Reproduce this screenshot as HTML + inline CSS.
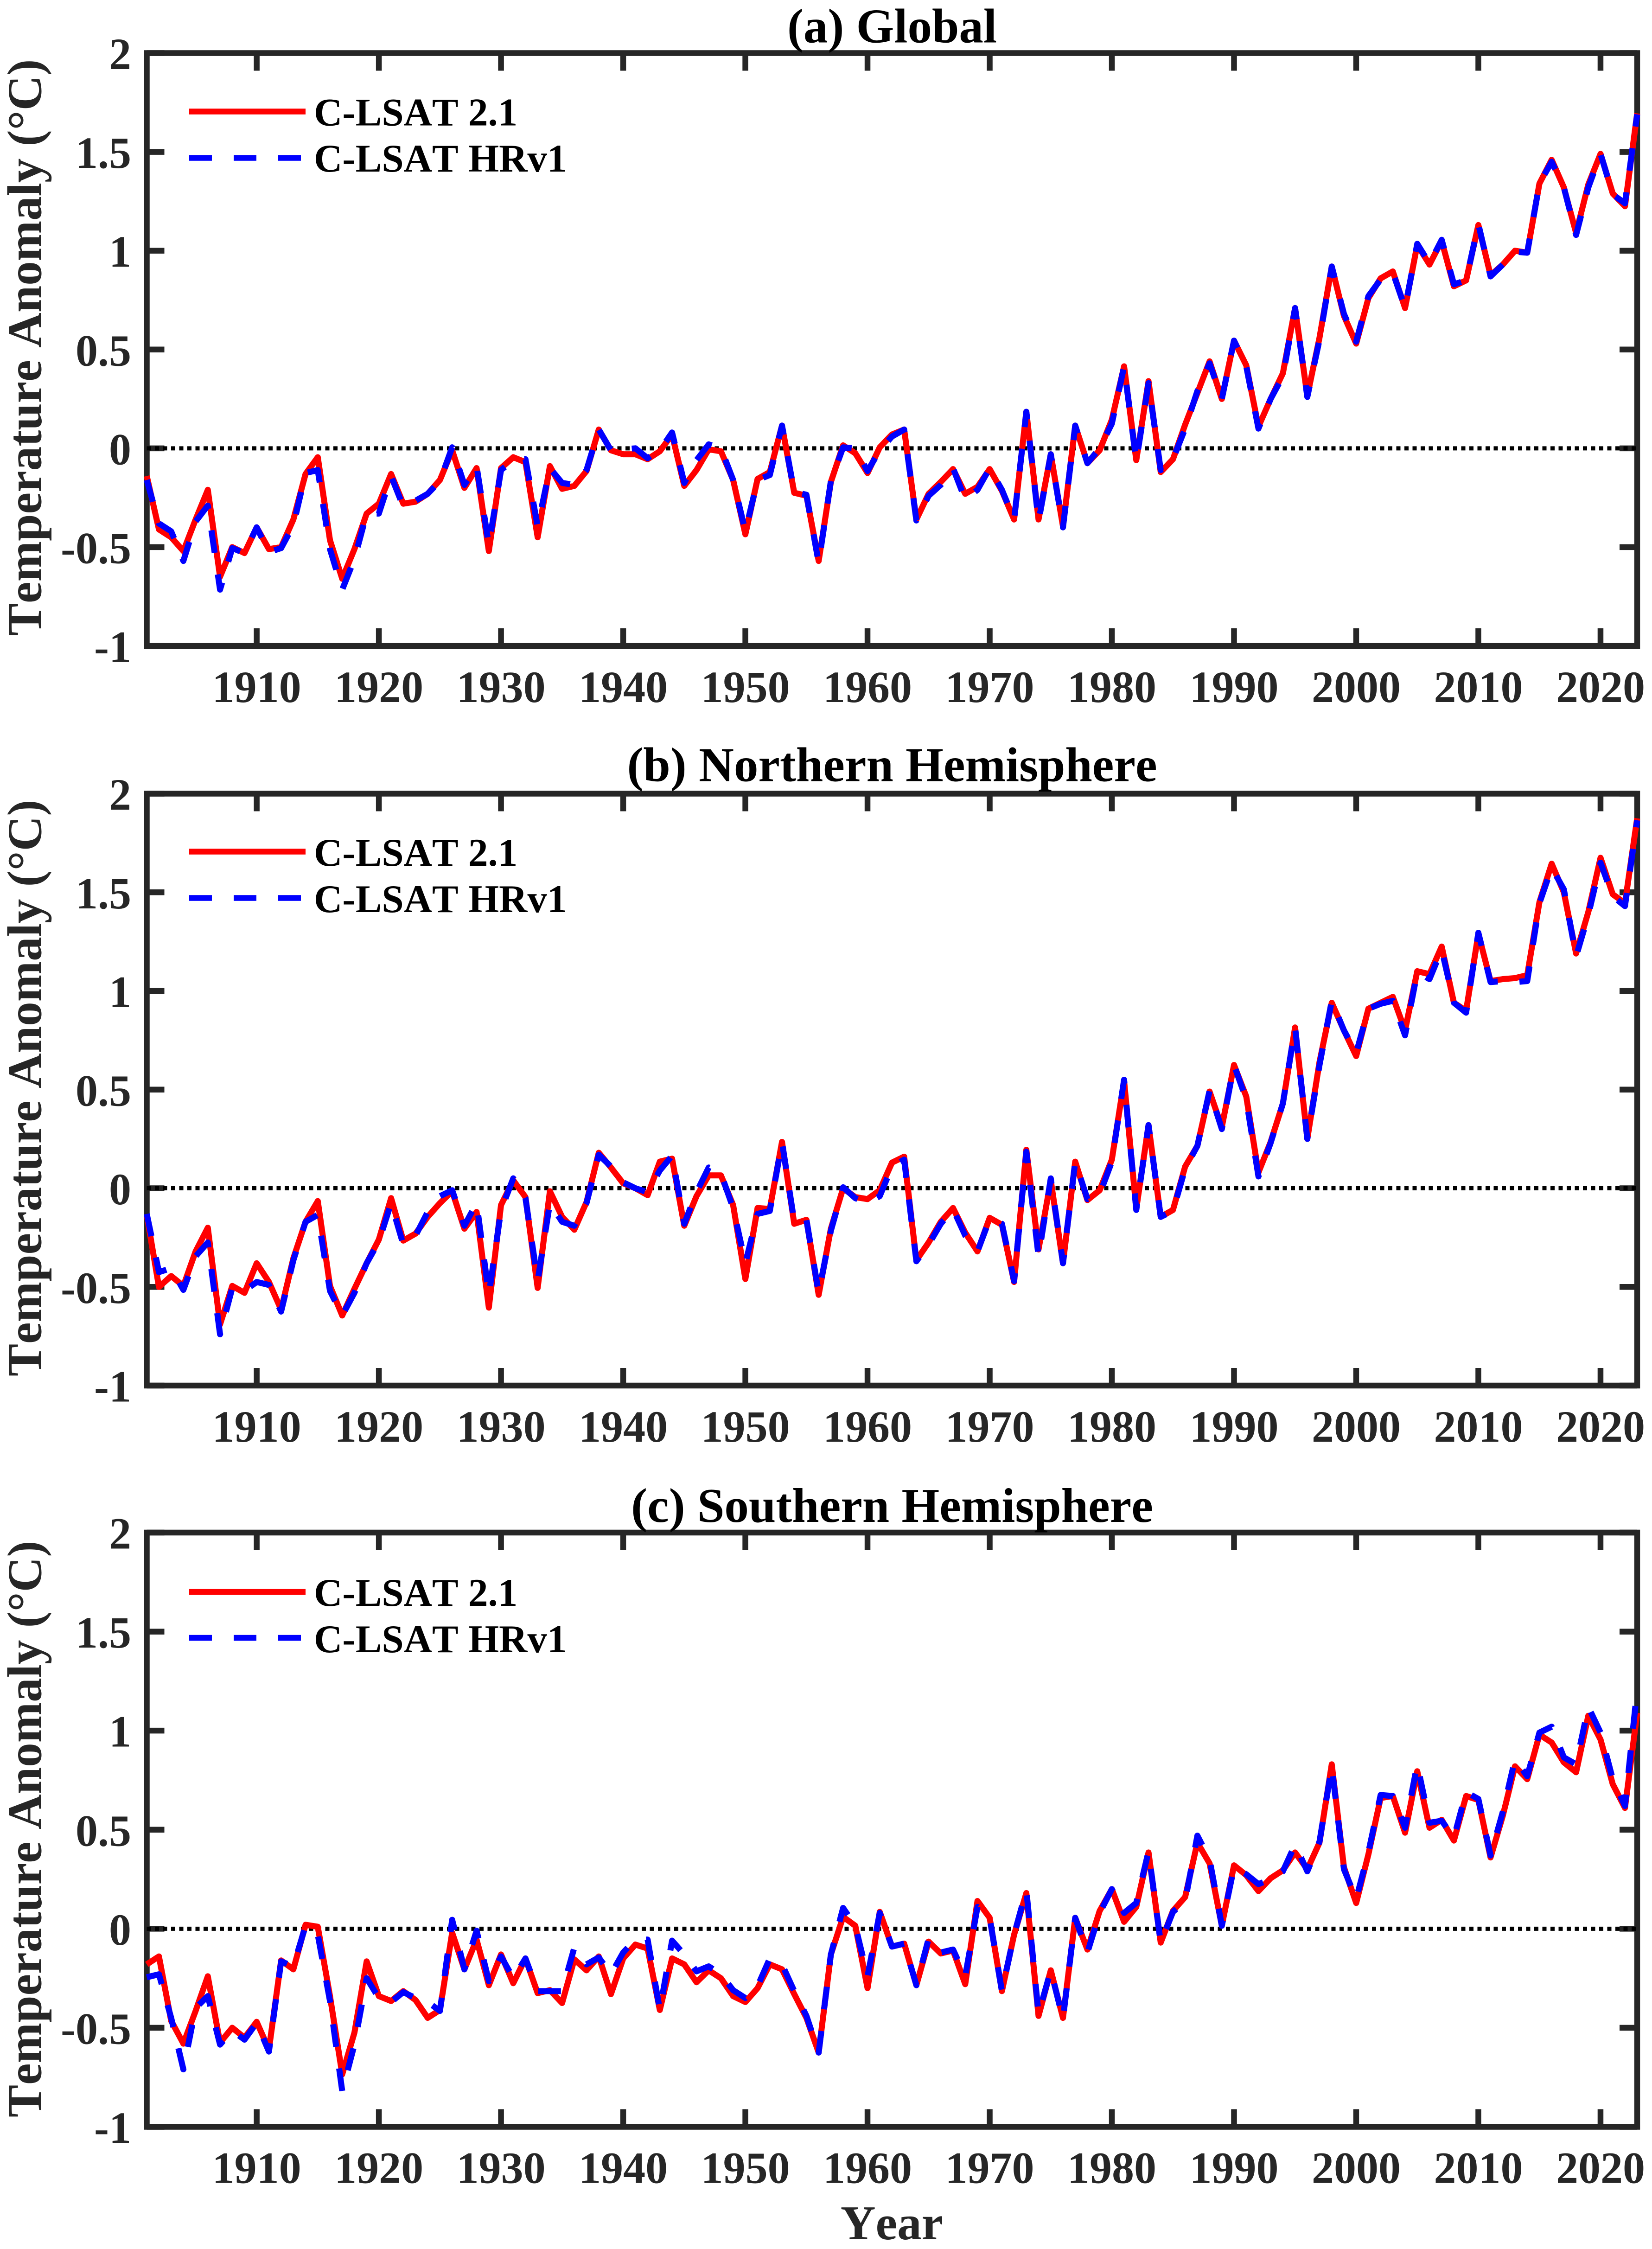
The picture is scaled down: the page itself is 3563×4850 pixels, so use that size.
<!DOCTYPE html>
<html lang="en">
<head>
<meta charset="utf-8">
<title>C-LSAT temperature anomaly</title>
<style>
html,body{margin:0;padding:0;background:#fff;}
svg{display:block;}
text{font-family:"Liberation Serif","Times New Roman",serif;font-weight:bold;font-kerning:none;}
.ttl{font-size:105px;fill:#000;text-anchor:middle;}
.ylab{font-size:105px;fill:#262626;}
.leg{font-size:85px;fill:#000;}
.frame{fill:none;stroke:#262626;stroke-width:12.5;}
</style>
</head>
<body>
<svg id="chart" xmlns="http://www.w3.org/2000/svg" width="3563" height="4850" viewBox="0 0 3563 4850">
  <rect x="0" y="0" width="3563" height="4850" fill="#fff"/>

  <g id="panel-a">
    <rect class="frame" x="316.5" y="114.5" width="3214.5" height="1278.5"/>
    <text class="ttl" x="1924" y="91.5">(a) Global</text>
    <text class="ylab" transform="translate(88.4,1371) rotate(-90)">Temperature Anomaly (°C)</text>
  </g>
  <g id="panel-b">
    <rect class="frame" x="316.5" y="1711.5" width="3214.5" height="1276.5"/>
    <text class="ttl" x="1924" y="1684.6">(b) Northern Hemisphere</text>
    <text class="ylab" transform="translate(88.4,2968) rotate(-90)">Temperature Anomaly (°C)</text>
  </g>
  <g id="panel-c">
    <rect class="frame" x="316.5" y="3305" width="3214.5" height="1281.5"/>
    <text class="ttl" x="1924" y="3282">(c) Southern Hemisphere</text>
    <text class="ylab" transform="translate(88.4,4566) rotate(-90)">Temperature Anomaly (°C)</text>
    <text class="ylab" x="1923.5" y="4829" text-anchor="middle">Year</text>
  </g>
</svg>

<script>
// Data
const firstYear = 1901;
const lastYear = 2023;
const xTickLabels = [1910,1920,1930,1940,1950,1960,1970,1980,1990,2000,2010,2020];
const yTickValues = [-1,-0.5,0,0.5,1,1.5,2];
const yTickLabels = ['-1','-0.5','0','0.5','1','1.5','2'];
const seriesNames = ['C-LSAT 2.1','C-LSAT HRv1'];

const globalClsat21 = [
-.14,-.41,-.45,-.52,-.36,-.21,-.65,-.50,-.53,-.40,
-.51,-.50,-.36,-.13,-.045,-.465,-.66,-.51,-.33,-.28,
-.13,-.28,-.27,-.23,-.16,-.01,-.20,-.10,-.52,-.10,
-.045,-.07,-.45,-.09,-.205,-.19,-.115,.095,-.01,-.03,
-.03,-.055,-.015,.07,-.19,-.11,-.005,-.015,-.16,-.435,
-.155,-.12,.115,-.225,-.24,-.57,-.17,.015,-.025,-.125,
.005,.07,.095,-.36,-.23,-.17,-.105,-.23,-.195,-.105,
-.215,-.36,.185,-.36,-.03,-.395,.115,-.075,-.01,.145,
.415,-.06,.34,-.12,-.055,.12,.28,.44,.25,.545,
.42,.11,.25,.38,.71,.265,.56,.92,.67,.53,
.76,.86,.895,.71,1.03,.93,1.05,.82,.85,1.13,
.875,.93,1.0,.99,1.34,1.46,1.32,1.09,1.335,1.49,
1.29,1.225,1.695];

const globalHrv1 = [
-.16,-.38,-.42,-.57,-.37,-.29,-.715,-.505,-.53,-.40,
-.525,-.505,-.39,-.125,-.11,-.51,-.715,-.56,-.33,-.33,
-.14,-.295,-.265,-.23,-.165,.005,-.185,-.09,-.49,-.11,
-.06,-.055,-.395,-.10,-.175,-.185,-.11,.095,-.01,-.005,
0,-.05,-.01,.08,-.175,-.06,.02,0,-.16,-.42,
-.16,-.135,.115,-.22,-.235,-.58,-.165,.005,0,-.115,
-.01,.06,.095,-.365,-.24,-.185,-.10,-.26,-.21,-.10,
-.21,-.36,.185,-.37,-.03,-.40,.115,-.075,0,.125,
.415,-.065,.33,-.11,-.055,.10,.29,.43,.25,.545,
.415,.10,.25,.365,.71,.26,.55,.92,.68,.54,
.77,.855,.89,.71,1.035,.935,1.055,.83,.85,1.135,
.87,.93,.995,.99,1.34,1.45,1.32,1.08,1.32,1.49,
1.285,1.24,1.69];

const northernClsat21 = [
-.135,-.50,-.445,-.495,-.32,-.20,-.69,-.495,-.53,-.38,
-.475,-.615,-.355,-.17,-.065,-.495,-.645,-.51,-.38,-.26,
-.05,-.265,-.23,-.145,-.075,-.015,-.205,-.12,-.605,-.085,
.04,-.045,-.505,-.015,-.145,-.21,-.07,.18,.105,.025,
0,-.035,.135,.15,-.19,-.04,.065,.065,-.085,-.46,
-.10,-.105,.235,-.18,-.16,-.54,-.205,0,-.045,-.055,
-.01,.13,.16,-.365,-.275,-.17,-.10,-.225,-.32,-.15,
-.185,-.475,.195,-.31,.04,-.38,.135,-.06,-.01,.145,
.545,-.105,.32,-.145,-.11,.11,.215,.49,.31,.625,
.465,.08,.235,.43,.815,.25,.64,.94,.80,.67,
.91,.94,.97,.80,1.10,1.085,1.225,.94,.90,1.29,
1.05,1.06,1.065,1.08,1.45,1.645,1.50,1.19,1.40,1.675,
1.49,1.445,1.875];

const northernHrv1 = [
-.13,-.425,-.405,-.515,-.345,-.275,-.74,-.505,-.52,-.475,
-.49,-.625,-.365,-.17,-.135,-.52,-.645,-.53,-.38,-.27,
-.075,-.285,-.24,-.12,-.04,-.01,-.19,-.075,-.54,-.11,
.05,-.05,-.47,-.075,-.17,-.19,-.075,.17,.11,.03,
0,-.02,.09,.165,-.18,-.02,.105,.075,-.10,-.38,
-.13,-.115,.235,-.17,-.16,-.53,-.215,.005,-.05,-.075,
-.04,.11,.145,-.37,-.285,-.18,-.105,-.24,-.32,-.155,
-.18,-.47,.185,-.345,.05,-.38,.135,-.055,-.03,.135,
.55,-.11,.32,-.145,-.115,.10,.215,.495,.30,.625,
.45,.06,.23,.43,.815,.25,.625,.95,.80,.685,
.91,.935,.95,.775,1.095,1.06,1.21,.94,.89,1.295,
1.045,1.05,1.045,1.05,1.445,1.625,1.515,1.175,1.385,1.65,
1.48,1.43,1.865];

const southernClsat21 = [
-.18,-.14,-.465,-.58,-.415,-.24,-.575,-.50,-.55,-.47,
-.61,-.16,-.205,.02,.01,-.34,-.735,-.525,-.165,-.34,
-.365,-.315,-.36,-.45,-.41,-.02,-.205,-.055,-.285,-.13,
-.275,-.15,-.325,-.31,-.375,-.155,-.21,-.14,-.33,-.15,
-.08,-.10,-.41,-.15,-.18,-.27,-.21,-.25,-.34,-.37,
-.30,-.18,-.205,-.33,-.45,-.625,-.13,.06,.015,-.30,
.085,-.09,-.075,-.285,-.065,-.125,-.11,-.28,.14,.055,
-.315,-.03,.18,-.44,-.21,-.45,.055,-.105,.09,.20,
.035,.11,.385,-.07,.09,.16,.435,.33,.015,.32,
.27,.19,.255,.295,.385,.30,.435,.83,.31,.13,
.375,.66,.67,.485,.795,.51,.55,.445,.67,.65,
.36,.57,.82,.755,.98,.94,.84,.79,1.075,.955,
.73,.61,1.09];

const southernHrv1 = [
-.245,-.23,-.45,-.71,-.40,-.34,-.585,-.515,-.56,-.475,
-.62,-.165,-.19,.015,-.03,-.365,-.82,-.585,-.25,-.35,
-.37,-.32,-.35,-.37,-.415,.045,-.205,-.01,-.265,-.14,
-.25,-.15,-.315,-.315,-.315,-.095,-.18,-.145,-.23,-.12,
-.055,-.055,-.41,-.06,-.13,-.215,-.19,-.23,-.31,-.35,
-.29,-.15,-.18,-.315,-.44,-.625,-.13,.105,.015,-.24,
.08,-.09,-.075,-.285,-.05,-.12,-.105,-.24,.11,.055,
-.315,-.03,.195,-.43,-.21,-.455,.055,-.12,.08,.20,
.08,.13,.39,-.07,.085,.14,.47,.35,.015,.31,
.275,.225,.25,.29,.425,.29,.44,.82,.30,.15,
.385,.675,.67,.51,.83,.535,.545,.46,.69,.655,
.37,.59,.855,.77,.99,1.02,.865,.83,1.12,.99,
.755,.62,1.21];

// Panel geometry (styles / layout only)
const left = 316.5, right = 3531, tickLen = 38;
const NS = 'http://www.w3.org/2000/svg';

function xScale(year) {
  return left + (year - firstYear) * (right - left) / (lastYear - firstYear);
}
function yScaleFor(top, bottom) {
  return function (v) { return bottom - (v + 1) * (bottom - top) / 3; };
}
function make(tag, attrs, parent) {
  const el = document.createElementNS(NS, tag);
  for (const k in attrs) el.setAttribute(k, attrs[k]);
  parent.appendChild(el);
  return el;
}

function drawPanel(groupId, prefix, top, bottom, redVals, blueVals, legendY) {
  const g = document.getElementById(groupId);
  const yScale = yScaleFor(top, bottom);

  xTickLabels.forEach(function (yr) {
    const x = xScale(yr);
    const tb = make('line', {x1:x, x2:x, y1:bottom, y2:bottom - tickLen, stroke:'#262626', 'stroke-width':12.5}, g);
    
    
    const tt = make('line', {x1:x, x2:x, y1:top, y2:top + tickLen, stroke:'#262626', 'stroke-width':12.5}, g);
    
    
    const lab = make('text', {x:x, y:bottom + 121, 'text-anchor':'middle', 'font-size':96, fill:'#262626'}, g);
    
    
    lab.textContent = String(yr);
  });

  yTickValues.forEach(function (v, i) {
    const y = yScale(v);
    const tl = make('line', {x1:left, x2:left + tickLen, y1:y, y2:y, stroke:'#262626', 'stroke-width':12.5}, g);
    
    
    const tr = make('line', {x1:right, x2:right - tickLen, y1:y, y2:y, stroke:'#262626', 'stroke-width':12.5}, g);
    
    
    const lab = make('text', {x:283, y:y + 34.5, 'text-anchor':'end', 'font-size':96, fill:'#262626'}, g);
    
    
    lab.textContent = yTickLabels[i];
  });

  const zero = make('line', {x1:left, x2:right, y1:yScale(0), y2:yScale(0), stroke:'#000', 'stroke-width':9, 'stroke-dasharray':'9 8.5'}, g);
  
  

  function pts(vals) {
    return vals.map(function (v, i) {
      return xScale(firstYear + i).toFixed(1) + ',' + yScale(v).toFixed(1);
    }).join(' ');
  }
  const red = make('polyline', {points:pts(redVals), fill:'none', stroke:'#ff0000', 'stroke-width':13, 'stroke-linejoin':'round'}, g);
  
  
  const blue = make('polyline', {points:pts(blueVals), fill:'none', stroke:'#0000ff', 'stroke-width':13, 'stroke-linejoin':'round', 'stroke-dasharray':'49 47'}, g);
  
  

  // legend
  const l1 = make('line', {x1:408, x2:659, y1:legendY[0], y2:legendY[0], stroke:'#ff0000', 'stroke-width':12.5}, g);
  
  
  const l2 = make('line', {x1:408, x2:659, y1:legendY[1], y2:legendY[1], stroke:'#0000ff', 'stroke-width':12.5, 'stroke-dasharray':'49 47'}, g);
  
  
  const t1 = make('text', {class:'leg', x:677, y:legendY[2]}, g);
  
  
  t1.textContent = seriesNames[0];
  const t2 = make('text', {class:'leg', x:677, y:legendY[3]}, g);
  
  
  t2.textContent = seriesNames[1];
}

drawPanel('panel-a', 'global', 114.5, 1393, globalClsat21, globalHrv1, [240.5, 340.5, 270.6, 370]);
drawPanel('panel-b', 'northern', 1711.5, 2988, northernClsat21, northernHrv1, [1836.5, 1936.5, 1867, 1967]);
drawPanel('panel-c', 'southern', 3305, 4586.5, southernClsat21, southernHrv1, [3433, 3532, 3463, 3563]);
</script>
</body>
</html>
